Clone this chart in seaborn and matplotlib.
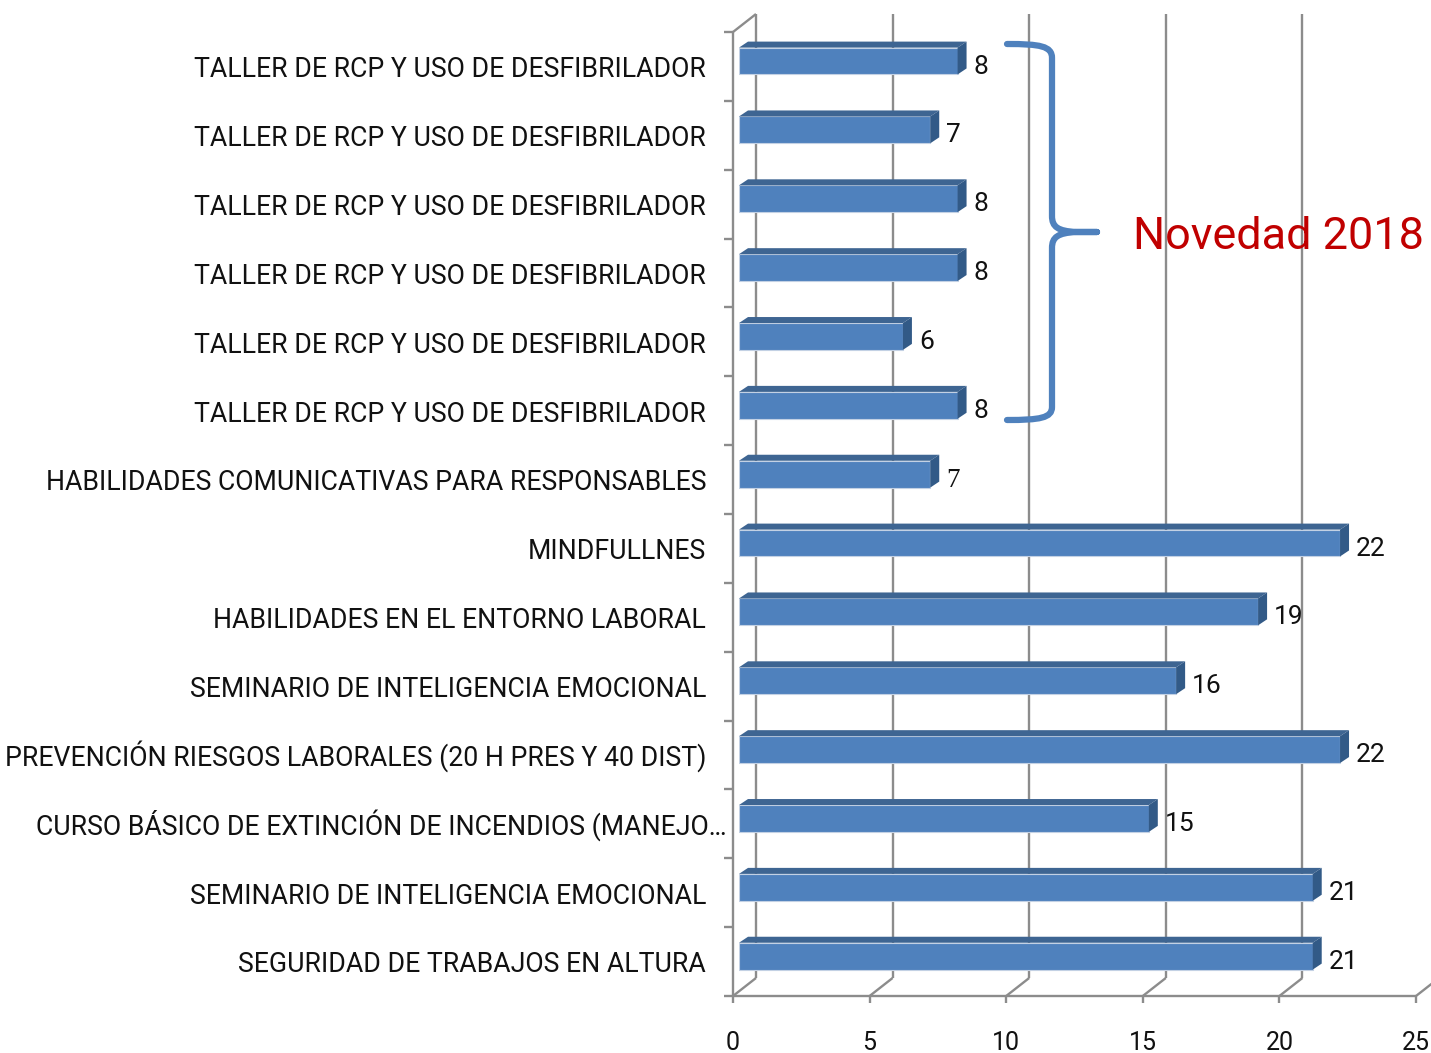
import matplotlib
matplotlib.use("Agg")
import matplotlib.pyplot as plt
import seaborn as sns
import pandas as pd
from matplotlib.patches import Polygon, PathPatch
from matplotlib.path import Path

# ---------------- data ----------------
categories = [
    "TALLER DE RCP Y USO DE DESFIBRILADOR",
    "TALLER DE RCP Y USO DE DESFIBRILADOR",
    "TALLER DE RCP Y USO DE DESFIBRILADOR",
    "TALLER DE RCP Y USO DE DESFIBRILADOR",
    "TALLER DE RCP Y USO DE DESFIBRILADOR",
    "TALLER DE RCP Y USO DE DESFIBRILADOR",
    "HABILIDADES COMUNICATIVAS PARA RESPONSABLES",
    "MINDFULLNES",
    "HABILIDADES EN EL ENTORNO LABORAL",
    "SEMINARIO DE INTELIGENCIA EMOCIONAL",
    "PREVENCIÓN RIESGOS LABORALES (20 H PRES Y 40 DIST)",
    "CURSO BÁSICO DE EXTINCIÓN DE INCENDIOS (MANEJO…",
    "SEMINARIO DE INTELIGENCIA EMOCIONAL",
    "SEGURIDAD DE TRABAJOS EN ALTURA",
]
values = [8, 7, 8, 8, 6, 8, 7, 22, 19, 16, 22, 15, 21, 21]
x_ticks = [0, 5, 10, 15, 20, 25]
annotation_text = "Novedad 2018"

# ---------------- style ----------------
sns.set_theme(style="white")
plt.rcParams["font.family"] = ["Roboto", "DejaVu Sans"]

FRONT = "#4F81BD"
TOP = "#3E6592"
SIDE = "#325A87"
GRID = "#8C8C8C"
TXT = "#111111"

W, H = 1431, 1053
fig = plt.figure(figsize=(W / 100, H / 100), dpi=100)
L_PX, R_PX = 739, 1422
T_PX, B_PX = 26.6, 990.6
ax = fig.add_axes([L_PX / W, 1 - B_PX / H, (R_PX - L_PX) / W, (B_PX - T_PX) / H])

n = len(values)
df = pd.DataFrame({"row": [f"r{i}" for i in range(n)], "value": values})
sns.barplot(data=df, x="value", y="row", order=list(df["row"]), orient="h",
            width=0.39, color=FRONT, saturation=1, edgecolor="#c3d1e4",
            linewidth=0.8, ax=ax)
ax.set_xlim(0, x_ticks[-1])
ax.set_ylim(n - 0.5, -0.5)
ax.axis("off")

ppx = (R_PX - L_PX) / x_ticks[-1]
ppy = (B_PX - T_PX) / n


def P(v, r, off=(0, 0)):
    return (v + off[0] / ppx, r + off[1] / ppy)


front = (-6, 5.4)
back = (17, -12.6)
lw = 1.7


def seg(a, b, z=0.5):
    ax.plot([a[0], b[0]], [a[1], b[1]], color=GRID, lw=lw, clip_on=False,
            zorder=z, solid_capstyle="butt")


top_r, bot_r = -0.5, n - 0.5
for v in x_ticks:
    seg(P(v, top_r, back), P(v, bot_r, back))
    seg(P(v, bot_r, front), P(v, bot_r, back))
    seg(P(v, bot_r, front), P(v, bot_r, (front[0], front[1] + 7)))
seg(P(0, top_r, front), P(0, bot_r, front))
seg(P(0, top_r, front), P(0, top_r, back))
seg(P(0, bot_r, front), P(x_ticks[-1], bot_r, front))
for k in range(n + 1):
    r = k - 0.5
    seg(P(0, r, (front[0] - 9, front[1])), P(0, r, front))

# 3D faces of bars
dx, dy = 9 / ppx, 6 / ppy
for p in ax.patches:
    p.set_zorder(3)
    x0 = p.get_x()
    x1 = x0 + p.get_width()
    yt = p.get_y()
    yb = yt + p.get_height()
    ax.add_patch(Polygon([(x0, yt), (x1, yt), (x1 + dx, yt - dy), (x0 + dx, yt - dy)],
                         closed=True, facecolor=TOP, edgecolor="none", zorder=3,
                         clip_on=False))
    ax.add_patch(Polygon([(x1, yt), (x1 + dx, yt - dy), (x1 + dx, yb - dy), (x1, yb)],
                         closed=True, facecolor=SIDE, edgecolor="none", zorder=3,
                         clip_on=False))

# x tick labels
for v in x_ticks:
    ax.text(*P(v, bot_r, (front[0], front[1] + 54)), str(v), ha="center",
            va="baseline", fontsize=18, color=TXT, clip_on=False)

# category labels
cat_texts = []
for i, lab in enumerate(categories):
    off = (-12, 16.3) if lab.endswith("…") else (-33, 16.3)
    t = ax.text(*P(0, i, off), lab, ha="right", va="baseline", fontsize=18,
                color=TXT, clip_on=False)
    cat_texts.append(t)

# value labels
for i, v in enumerate(values):
    fam = ["Liberation Serif", "DejaVu Serif"] if i == 6 else ["Roboto", "DejaVu Sans"]
    ax.text(*P(v, i, (16, 12.5)), str(v), ha="left", va="baseline",
            fontsize=19.5 if i == 6 else 19, color=TXT, family=fam, clip_on=False)

# annotation: brace + text
def px(xp, yp):
    return ((xp - L_PX) / ppx, (yp - (T_PX + 0.5 * ppy)) / ppy)

verts = [px(1007, 44),
         px(1040, 44), px(1052, 46), px(1052, 58),
         px(1052, 216),
         px(1052, 227), px(1058, 231), px(1076, 232),
         px(1097, 232),
         px(1076, 232),
         px(1058, 233), px(1052, 237), px(1052, 248),
         px(1052, 407),
         px(1052, 418), px(1040, 420), px(1007, 420)]
codes = [Path.MOVETO,
         Path.CURVE4, Path.CURVE4, Path.CURVE4,
         Path.LINETO,
         Path.CURVE4, Path.CURVE4, Path.CURVE4,
         Path.LINETO,
         Path.LINETO,
         Path.CURVE4, Path.CURVE4, Path.CURVE4,
         Path.LINETO,
         Path.CURVE4, Path.CURVE4, Path.CURVE4]
ax.add_patch(PathPatch(Path(verts, codes), facecolor="none", edgecolor=FRONT,
                       lw=4.5, capstyle="round", joinstyle="round",
                       clip_on=False, zorder=4))
nov = ax.text(*px(1133, 249), annotation_text, ha="left", va="baseline",
              fontsize=32, color="#C00000", clip_on=False, zorder=5)

# fit font sizes to the reference widths (label index -> pixel width)
fig.canvas.draw()
rend = fig.canvas.get_renderer()
targets = {0: 516, 6: 654, 7: 179, 10: 692, 13: 466}
cur = sum(cat_texts[i].get_window_extent(rend).width for i in targets)
s = cat_texts[0].get_fontsize() * sum(targets.values()) / cur
for t in cat_texts:
    t.set_fontsize(s)
wn = nov.get_window_extent(rend).width
nov.set_fontsize(nov.get_fontsize() * 291 / wn)

fig.savefig("out.png", dpi=100)
